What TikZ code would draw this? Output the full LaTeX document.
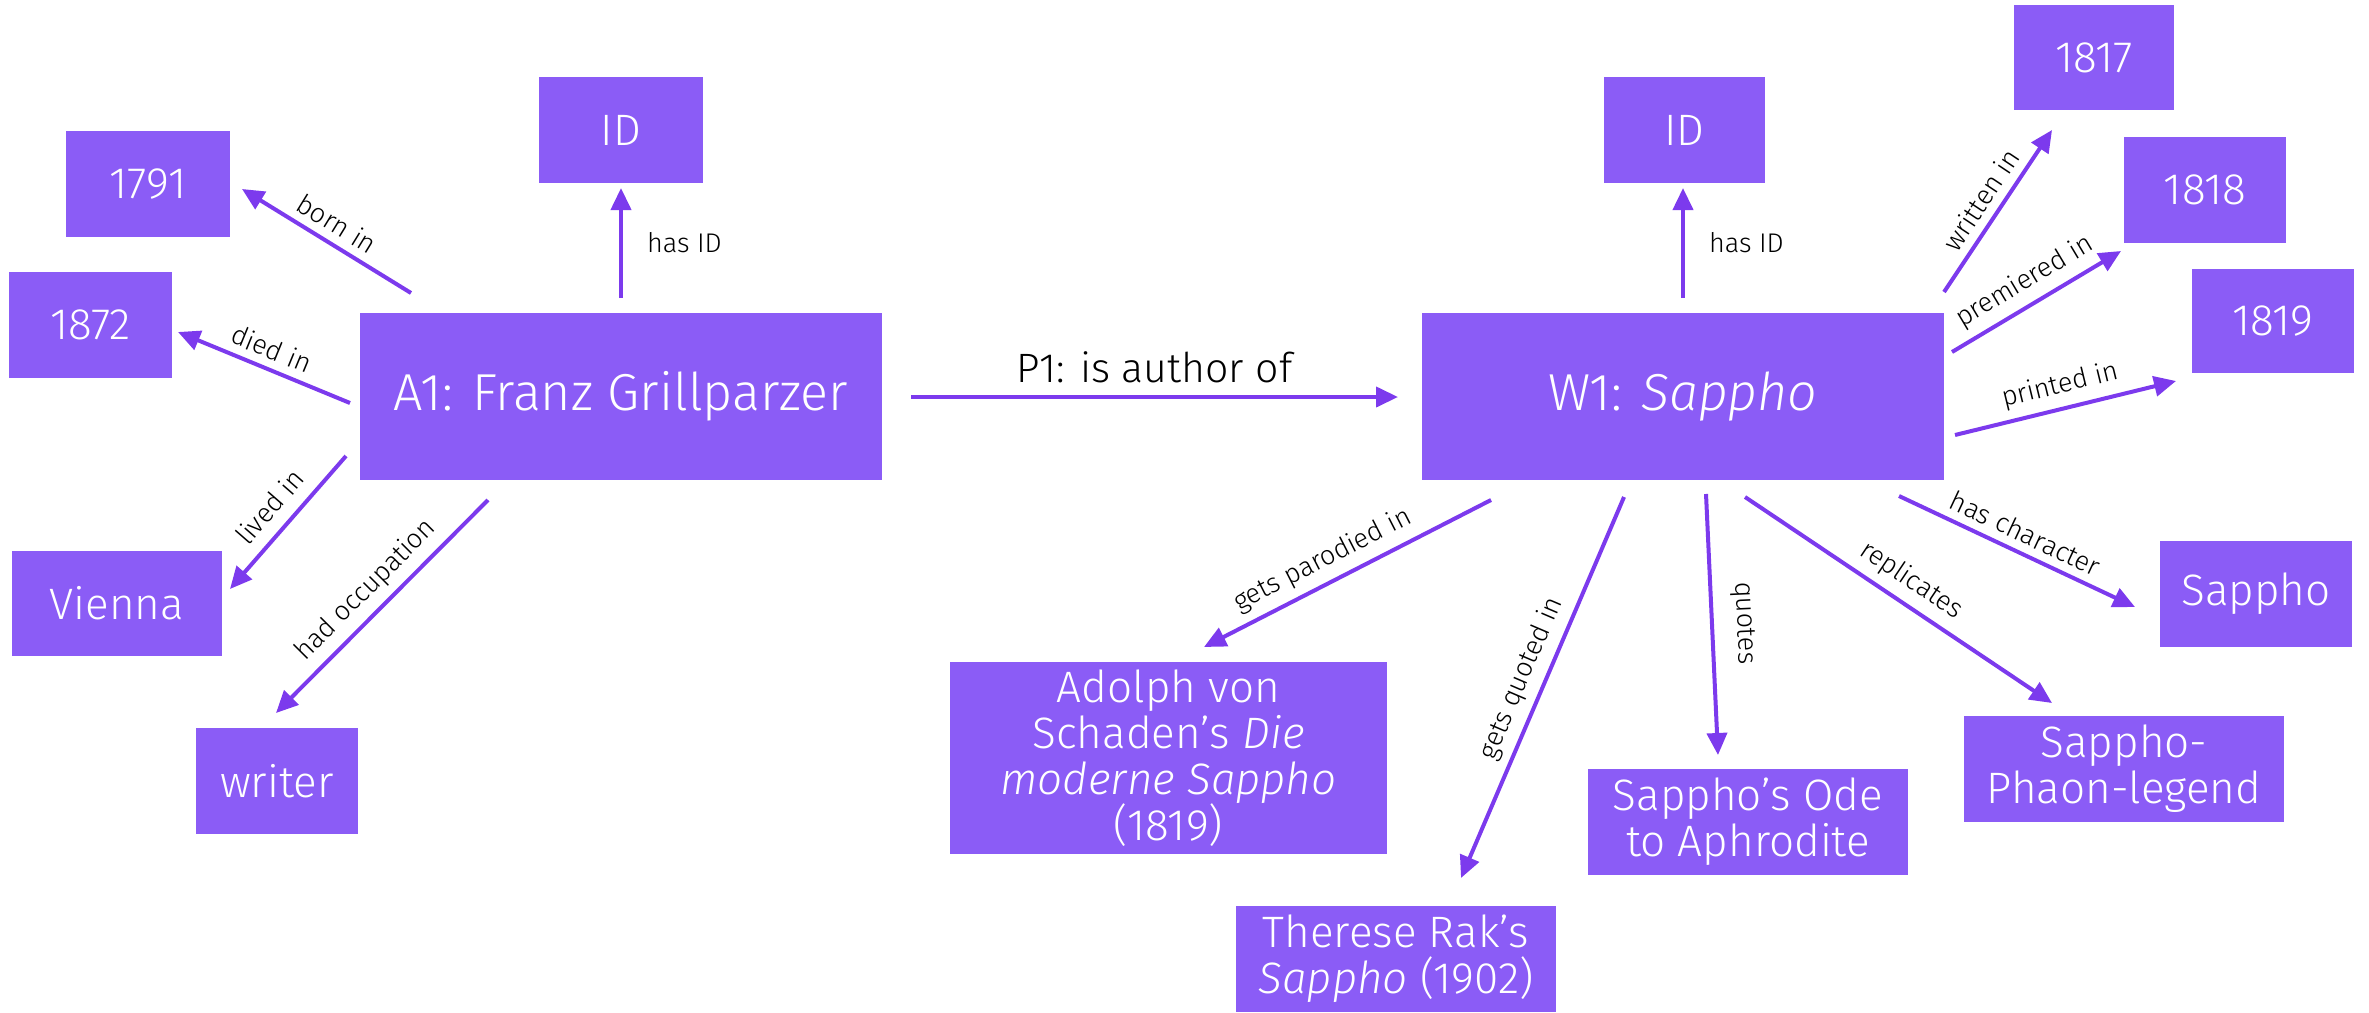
\documentclass[tikz,border=0pt]{standalone}
\usepackage{fontspec}
\setmainfont{Fira Sans}[UprightFont=* Light, ItalicFont=* Light Italic]
\usetikzlibrary{arrows.meta}
\definecolor{boxc}{HTML}{8B5CF6}
\definecolor{arrc}{HTML}{7C3AED}
\begin{document}
\begin{tikzpicture}[x=0.5pt,y=-0.5pt,
 box/.style={fill=boxc, text=white, inner sep=0pt, align=center, font=\fontsize{22}{23}\selectfont},
 bigbox/.style={box, font=\fontsize{26}{28}\selectfont},
 sz/.style 2 args={minimum width=0.5pt*#1, minimum height=0.5pt*#2},
 rel/.style={draw=arrc, line width=2pt, -{Triangle[length=11pt,width=10pt]}},
 lab/.style={font=\fontsize{13.5}{15}\selectfont, text=black, midway, sloped, above, inner sep=4pt},
 idlab/.style={font=\fontsize{13.5}{15}\selectfont, text=black, midway, right, inner sep=12pt},
 biglab/.style={font=\fontsize{20.5}{22}\selectfont, text=black, midway, above, inner sep=6pt}
]
\useasboundingbox (0,0) rectangle (2369,1012);
% nodes
\node[box, sz={164}{106}] (n1791) at (148,184) {1791};
\node[box, sz={163}{106}] (n1872) at (90.5,325) {1872};
\node[box, sz={210}{105}] (vienna) at (117,603.5) {Vienna};
\node[box, sz={162}{106}] (writer) at (277,781) {writer};
\node[box, sz={164}{106}] (idA) at (621,130) {ID};
\node[bigbox, sz={522}{167}] (A1) at (621,396.5) {A1: Franz Grillparzer};
\node[bigbox, sz={522}{167}] (W1) at (1683,396.5) {W1: \textit{Sappho}};
\node[box, sz={161}{106}] (idW) at (1684.5,130) {ID};
\node[box, sz={160}{105}] (n1817) at (2094,57.5) {1817};
\node[box, sz={162}{106}] (n1818) at (2205,190) {1818};
\node[box, sz={162}{104}] (n1819) at (2273,321) {1819};
\node[box, sz={192}{106}] (sappho) at (2256,594) {Sappho};
\node[box, sz={320}{106}] (legend) at (2124,769) {Sappho-\\Phaon-legend};
\node[box, sz={320}{106}] (ode) at (1748,822) {Sappho’s Ode\\to Aphrodite};
\node[box, sz={437}{192}] (adolph) at (1168.5,758) {Adolph von\\Schaden’s \textit{Die}\\\textit{moderne Sappho}\\(1819)};
\node[box, sz={320}{106}] (therese) at (1396,959) {Therese Rak’s\\\textit{Sappho} (1902)};
% connector end points
\coordinate (bornS) at (411,293);   \coordinate (bornE) at (242,189);
\coordinate (diedS) at (350,403);   \coordinate (diedE) at (178,332);
\coordinate (livS) at (346,456);    \coordinate (livE) at (230,589);
\coordinate (occS) at (488,500);    \coordinate (occE) at (276,713);
\coordinate (idAS) at (621,298);    \coordinate (idAE) at (621,188);
\coordinate (p1S) at (911,397);     \coordinate (p1E) at (1398,397);
\coordinate (idWS) at (1683,298);   \coordinate (idWE) at (1683,188);
\coordinate (wriS) at (1944,292);   \coordinate (wriE) at (2052,130);
\coordinate (preS) at (1952,352);   \coordinate (preE) at (2121,251);
\coordinate (priS) at (1955,435);   \coordinate (priE) at (2176,381);
\coordinate (chaS) at (1899,496);   \coordinate (chaE) at (2135,607);
\coordinate (repS) at (1745,497);   \coordinate (repE) at (2052,703);
\coordinate (quoS) at (1706,494);   \coordinate (quoE) at (1718,755);
\coordinate (gqS) at (1624,497);    \coordinate (gqE) at (1461,878);
\coordinate (gpS) at (1491,500);    \coordinate (gpE) at (1204,647);
% connectors
\draw[rel] (bornS) -- (bornE) node[lab]{born in};
\draw[rel] (diedS) -- (diedE) node[lab]{died in};
\draw[rel] (livS) -- (livE) node[lab, inner sep=6pt]{lived in};
\draw[rel] (occS) -- (occE) node[lab]{had occupation};
\draw[rel] (idAS) -- (idAE) node[idlab]{has ID};
\draw[rel] (p1S) -- (p1E) node[biglab]{P1: is author of};
\draw[rel] (idWS) -- (idWE) node[idlab]{has ID};
\draw[rel] (wriS) -- (wriE) node[lab]{written in};
\draw[rel] (preS) -- (preE) node[lab]{premiered in};
\draw[rel] (priS) -- (priE) node[lab]{printed in};
\draw[rel] (chaS) -- (chaE) node[lab]{has character};
\draw[rel] (repS) -- (repE) node[lab]{replicates};
\draw[rel] (quoS) -- (quoE) node[lab, inner sep=9pt]{quotes};
\draw[rel] (gqS) -- (gqE) node[lab]{gets quoted in};
\draw[rel] (gpS) -- (gpE) node[lab, pos=0.55]{gets parodied in};
\end{tikzpicture}
\end{document}
